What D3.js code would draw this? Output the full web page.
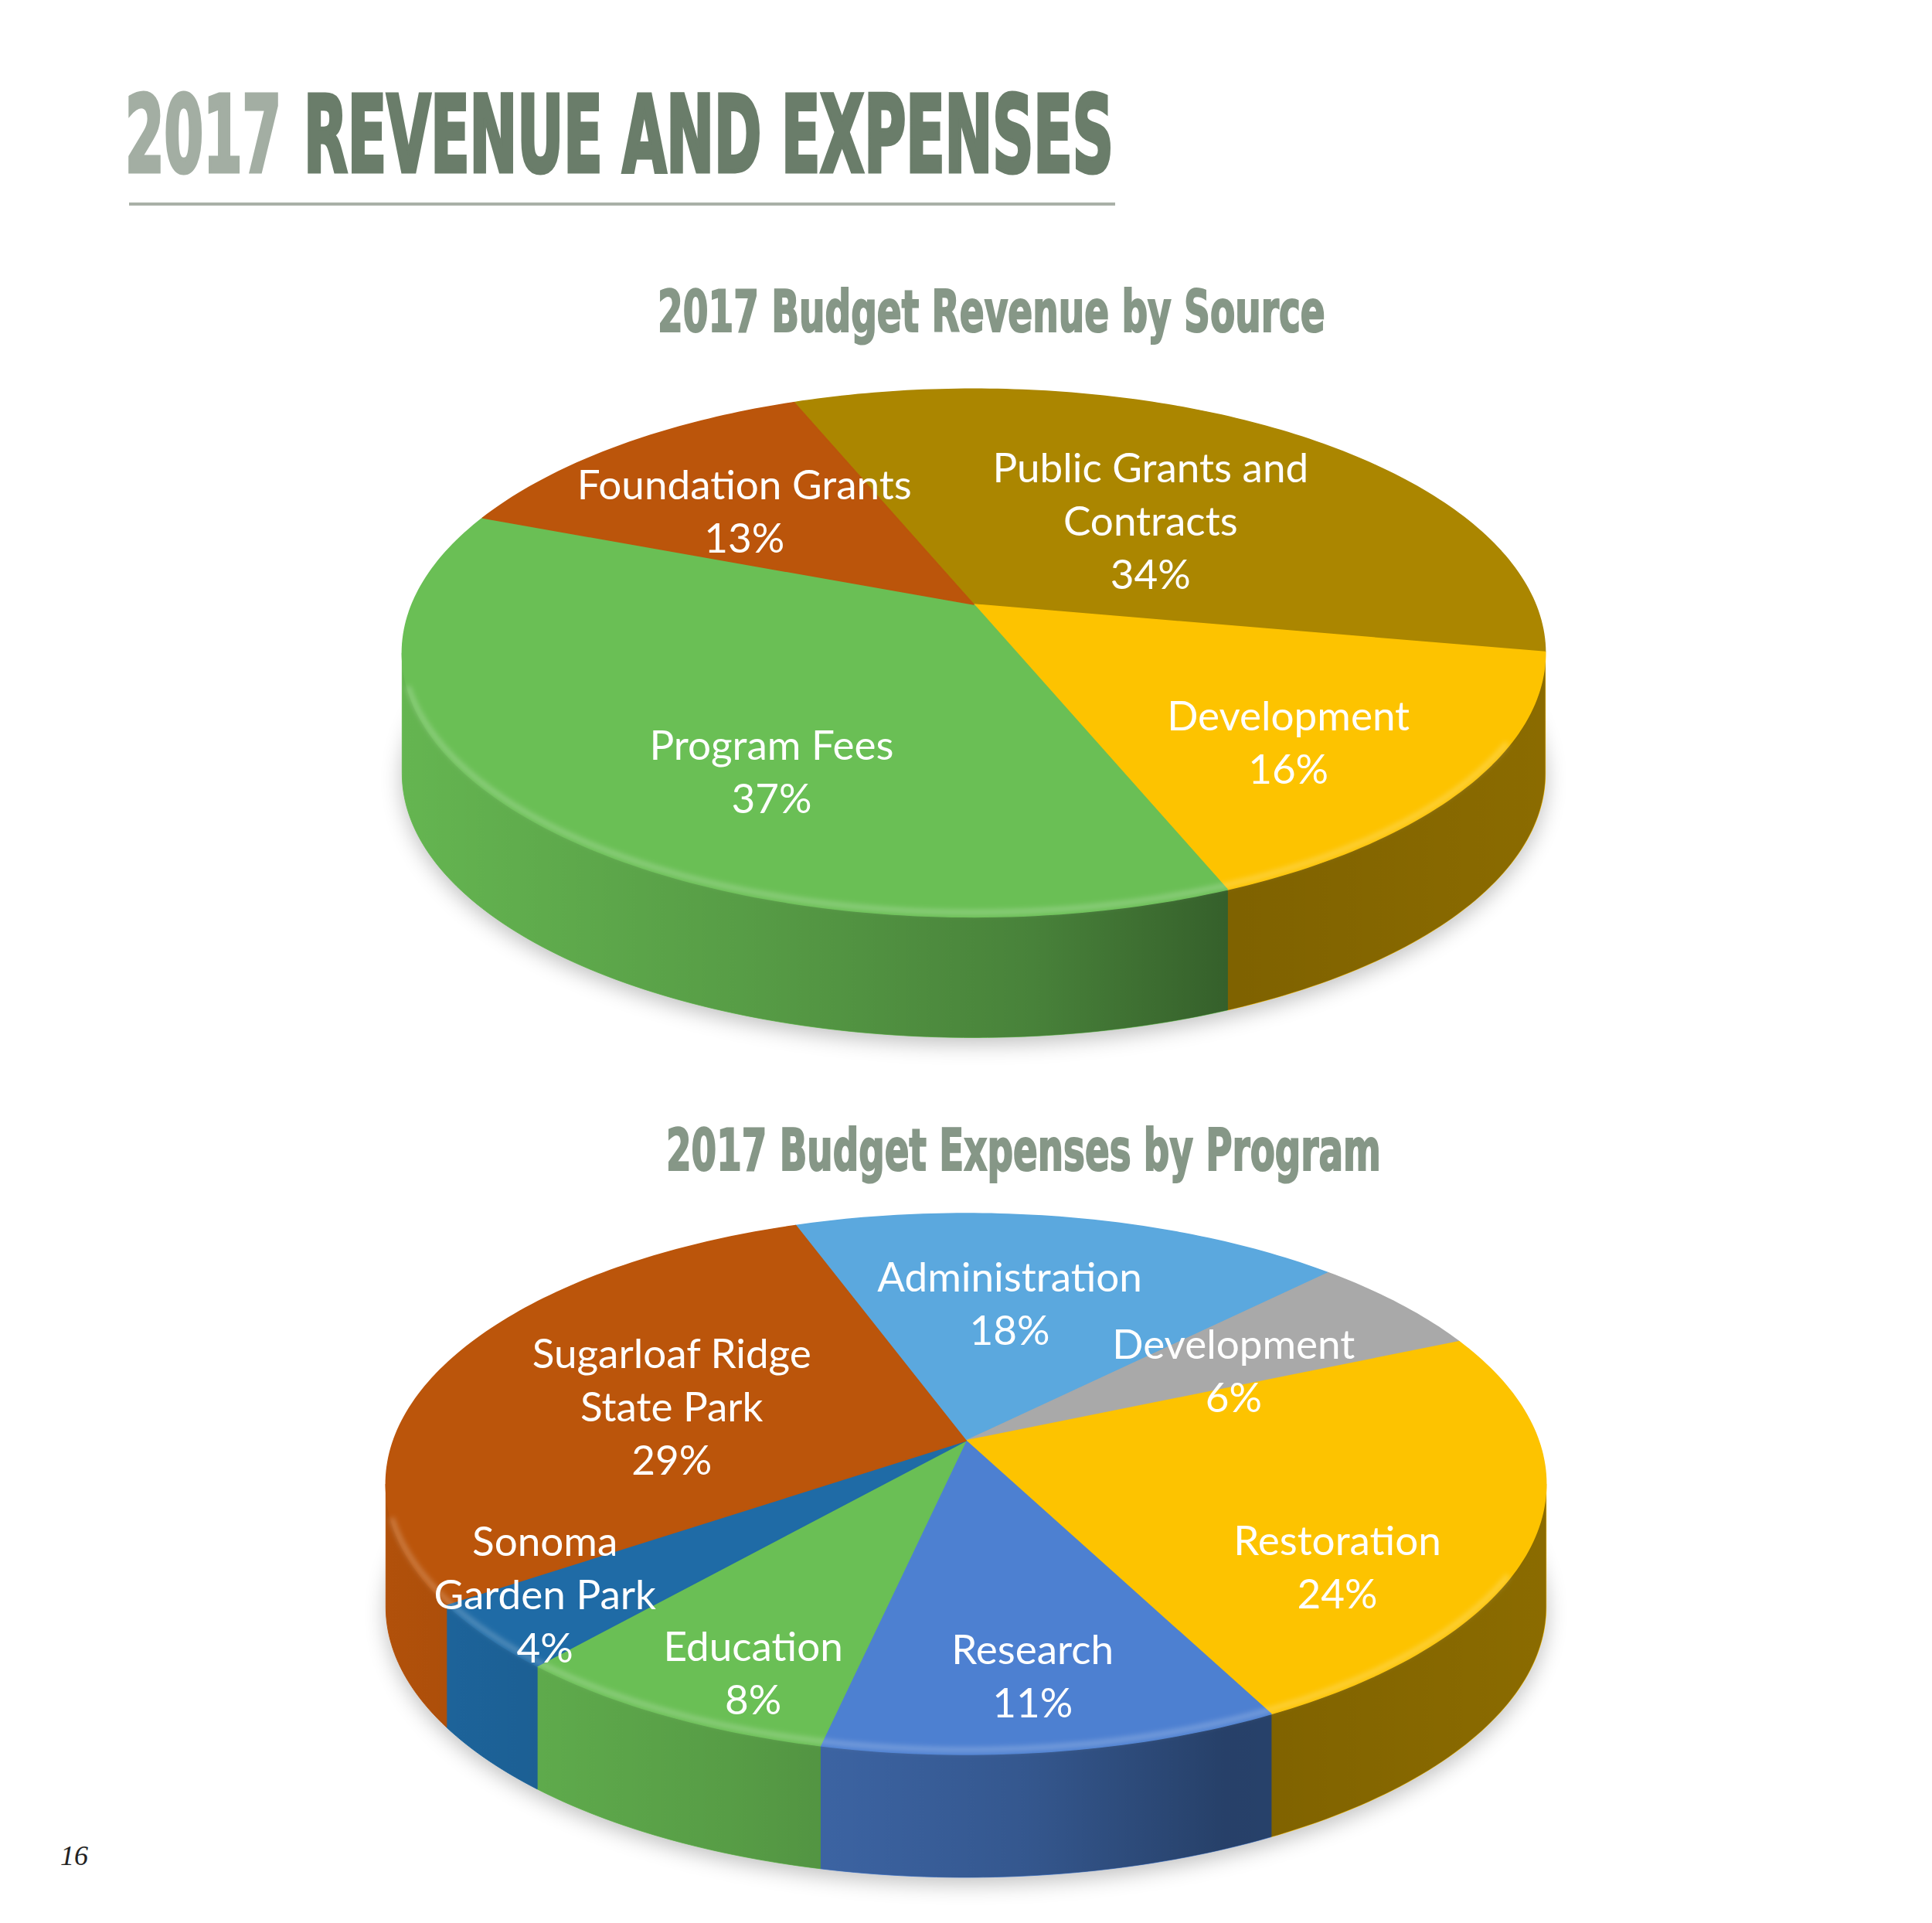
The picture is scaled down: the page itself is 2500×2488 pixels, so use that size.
<!DOCTYPE html>
<html>
<head>
<meta charset="utf-8">
<script src="https://cdn.jsdelivr.net/npm/d3@7"></script>
<style>
  body { margin: 0; background: #fff; }
  svg { display: block; }
</style>
</head>
<body>
<div id="chart"></div>
<script>
// revenue by source, clockwise from the top
var revenueNames = ['Public Grants and Contracts', 'Development', 'Program Fees', 'Foundation Grants'];
var revenueLines = [['Public Grants and', 'Contracts'], ['Development'], ['Program Fees'], ['Foundation Grants']];
var revenueShares = [34, 16, 37, 13];

// expenses by program, clockwise from the top
var expenseNames = ['Administration', 'Development', 'Restoration', 'Research', 'Education', 'Sonoma Garden Park', 'Sugarloaf Ridge State Park'];
var expenseLines = [['Administration'], ['Development'], ['Restoration'], ['Research'], ['Education'], ['Sonoma', 'Garden Park'], ['Sugarloaf Ridge', 'State Park']];
var expenseShares = [18, 6, 24, 11, 8, 4, 29];

var revenueColors = ['#ab8600', '#fdc300', '#6abf55', '#bb550b'];
var expenseColors = ['#5ba8de', '#a9a9a9', '#fdc300', '#4d80d1', '#6abf55', '#1f6ba6', '#bb550b'];

// label placement: [angle shift from slice middle (deg), radius fraction]
var revenueLabelAt = [[5, 0.48], [5, 0.71], [-16, 0.67], [-3, 0.585]];
var expenseLabelAt = [[-4, 0.57], [5, 0.56], [17, 0.75], [0, 0.79], [-4, 0.84], [3, 0.86], [-4, 0.54]];

var width = 2500, height = 2488;
var rad = Math.PI / 180;

var svg = d3.select('#chart').append('svg')
    .attr('width', width)
    .attr('height', height);

var defs = svg.append('defs');
defs.append('filter').attr('id', 'soft')
    .attr('x', '-20%').attr('y', '-20%').attr('width', '140%').attr('height', '140%')
    .append('feGaussianBlur').attr('stdDeviation', 14);
defs.append('filter').attr('id', 'glow')
    .attr('x', '-10%').attr('y', '-10%').attr('width', '120%').attr('height', '120%')
    .append('feGaussianBlur').attr('stdDeviation', 3);

var headFont = '"Liberation Sans Narrow", "DejaVu Sans Condensed", sans-serif';

// condensed heading: squeeze the text to a given width
function heading(str, x, y, w, size, color, sw) {
    var g = svg.append('g');
    var t = g.append('text')
        .style('font-family', headFont)
        .style('font-weight', 'bold').style('font-size', size + 'px')
        .attr('fill', color).attr('stroke', color).attr('stroke-width', sw)
        .text(str);
    var sx = w / t.node().getComputedTextLength();
    g.attr('transform', 'translate(' + x + ',' + y + ') scale(' + sx + ',1)');
    t.attr('stroke-width', sw / sx);
    return g;
}

// page title
heading('2017', 162, 222, 202, 137, '#a3aea3', 3);
heading('REVENUE AND EXPENSES', 393, 222, 1048, 137, '#6a7d6a', 3);
svg.append('line')
    .attr('x1', 167).attr('x2', 1443).attr('y1', 264).attr('y2', 264)
    .attr('stroke', '#a9b0a7').attr('stroke-width', 4);

// page number
svg.append('text')
    .attr('x', 78).attr('y', 2413)
    .style('font-family', '"Liberation Serif", serif')
    .style('font-style', 'italic').style('font-size', '36px')
    .attr('fill', '#222')
    .text('16');

function drawPie(opts) {
    var cfg = opts.cfg;

    heading(opts.title, opts.titleX, opts.titleY, opts.titleW, 74, '#869787', 1.5);

    var g = svg.append('g');

    var pie = d3.pie().sort(null)
        .startAngle(cfg.start * rad)
        .endAngle(cfg.start * rad + 2 * Math.PI);
    var arcs = pie(opts.shares);

    // perspective view of the disc: deg clockwise from the far side
    function project(deg, r, dy) {
        var t = deg * rad;
        var d = 1 + cfg.k * r * Math.cos(t);
        return [cfg.cx + cfg.B * r * Math.sin(t) / d,
                cfg.cy - cfg.A * r * Math.cos(t) / d + (dy || 0)];
    }
    function rim(a0, a1, dy) {
        var n = Math.max(2, Math.ceil(Math.abs(a1 - a0)));
        return d3.range(n + 1).map(function (i) {
            return project(a0 + (a1 - a0) * i / n, 1, dy);
        });
    }
    var line = d3.line();

    // the wall is seen between the left and right silhouette
    var wallR = Math.acos(-cfg.k) / rad;
    var wallL = 360 - wallR;

    // soft shadow under the disc
    g.append('path')
        .attr('d', line(rim(0, 360, cfg.depth + 8)) + 'Z')
        .attr('fill', '#000').attr('opacity', 0.25)
        .attr('filter', 'url(#soft)');

    var gradId = opts.id + '-shade';
    var grad = defs.append('linearGradient').attr('id', gradId)
        .attr('gradientUnits', 'userSpaceOnUse')
        .attr('x1', cfg.cx - cfg.B * 1.03).attr('x2', cfg.cx + cfg.B * 1.03)
        .attr('y1', 0).attr('y2', 0);
    [[0, 0.05], [0.3, 0.18], [0.55, 0.32], [0.72, 0.5], [1, 0.45]].forEach(function (s) {
        grad.append('stop').attr('offset', s[0]).attr('stop-color', '#000').attr('stop-opacity', s[1]);
    });

    var walls = g.append('g');
    arcs.forEach(function (a, i) {
        var a0 = Math.max(a.startAngle / rad, wallR);
        var a1 = Math.min(a.endAngle / rad, wallL);
        if (a1 <= a0) return;
        var pts = rim(a0, a1, 0).concat(rim(a1, a0, cfg.depth));
        walls.append('path')
            .attr('d', line(pts) + 'Z')
            .attr('fill', opts.colors[i])
            .attr('stroke', opts.colors[i]).attr('stroke-width', 1);
    });
    walls.append('path')
        .attr('d', line(rim(wallR, wallL, 0).concat(rim(wallL, wallR, cfg.depth))) + 'Z')
        .attr('fill', 'url(#' + gradId + ')');

    // top faces
    arcs.forEach(function (a, i) {
        var pts = [project(0, 0)].concat(rim(a.startAngle / rad, a.endAngle / rad, 0));
        g.append('path')
            .attr('d', line(pts) + 'Z')
            .attr('fill', opts.colors[i])
            .attr('stroke', opts.colors[i]).attr('stroke-width', 1.5)
            .attr('stroke-linejoin', 'round');
    });

    // bevel highlight along the near edge
    g.append('path')
        .attr('d', line(rim(wallR + 20, wallL - 8, -6)))
        .attr('fill', 'none')
        .attr('stroke', '#fff').attr('stroke-opacity', 0.22).attr('stroke-width', 7)
        .attr('filter', 'url(#glow)');

    // labels
    var lineH = 69;
    arcs.forEach(function (a, i) {
        var mid = (a.startAngle + a.endAngle) / 2 / rad + opts.labelAt[i][0];
        var p = project(mid, opts.labelAt[i][1]);
        var rows = opts.lines[i].concat([a.data + '%']);
        var y0 = p[1] - (rows.length - 1) * lineH / 2 + 18;
        var t = g.append('text')
            .attr('text-anchor', 'middle')
            .style('font-family', 'Lato, "Open Sans", sans-serif')
            .style('font-size', '53px')
            .attr('fill', '#fff');
        rows.forEach(function (r, j) {
            t.append('tspan').attr('x', p[0]).attr('y', y0 + j * lineH).text(r);
        });
    });
}

drawPie({
    id: 'rev',
    title: '2017 Budget Revenue by Source',
    titleX: 851, titleY: 429, titleW: 864,
    shares: revenueShares, lines: revenueLines, colors: revenueColors, labelAt: revenueLabelAt,
    cfg: {cx: 1260, cy: 782, A: 330, B: 727, k: 0.184, depth: 156, start: -22}
});

drawPie({
    id: 'exp',
    title: '2017 Budget Expenses by Program',
    titleX: 862, titleY: 1514, titleW: 925,
    shares: expenseShares, lines: expenseLines, colors: expenseColors, labelAt: expenseLabelAt,
    cfg: {cx: 1250, cy: 1864, A: 341, B: 741, k: 0.16, depth: 159, start: -20}
});
</script>
</body>
</html>
